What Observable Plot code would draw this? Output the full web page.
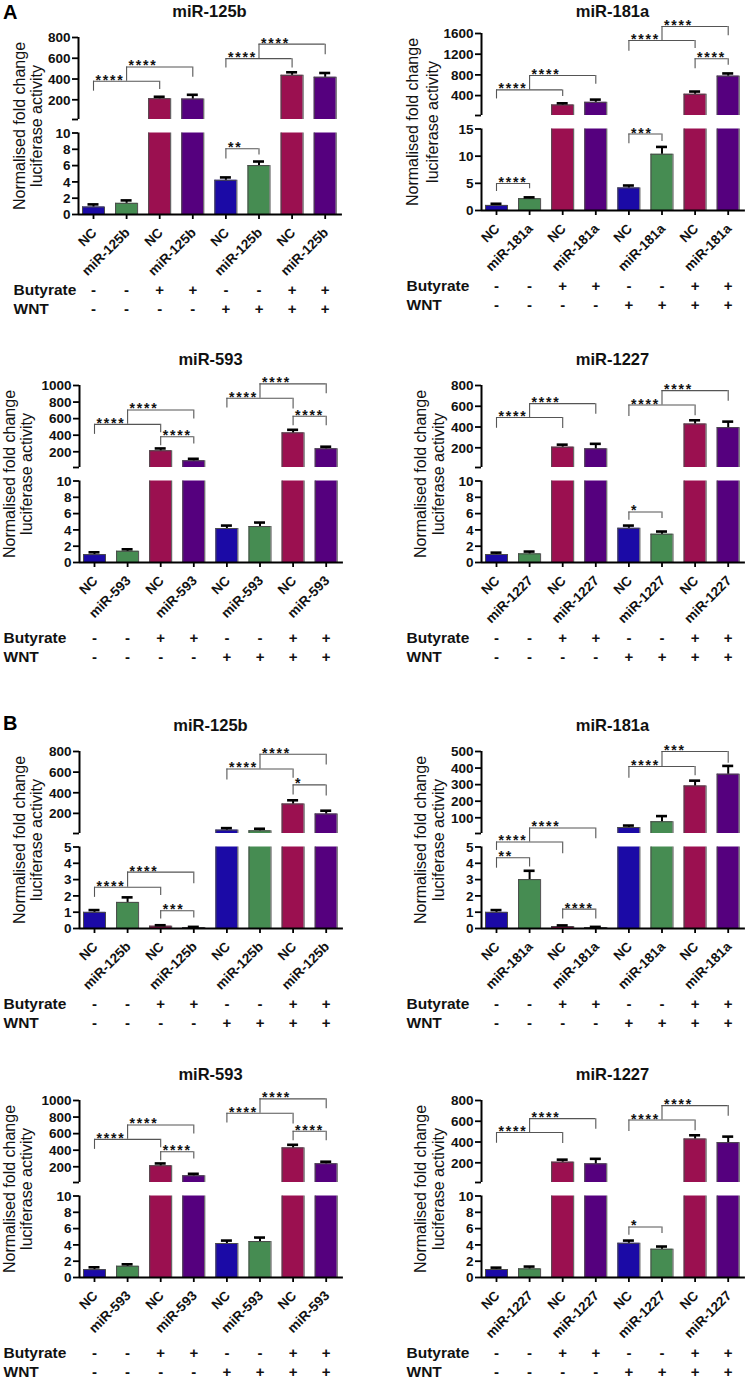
<!DOCTYPE html>
<html><head><meta charset="utf-8">
<script src="https://cdn.jsdelivr.net/npm/d3@7"></script>
<script src="https://cdn.jsdelivr.net/npm/@observablehq/plot@0.6"></script>
<style>
body{margin:0;background:#fff;}
#fig{position:relative;width:747px;height:1378px;font-family:"Liberation Sans",Arial,sans-serif;overflow:hidden;background:#fff;}
.panel{position:absolute;}
.letter{position:absolute;left:3px;font-weight:bold;font-size:20px;line-height:1;}
</style></head><body><div id="fig"></div>
<script>
// ---------------- data ----------------
const groupNames = ["miR-125b", "miR-181a", "miR-593", "miR-1227"];
const butyrateRow = ["-", "-", "+", "+", "-", "-", "+", "+"];
const wntRow = ["-", "-", "-", "-", "+", "+", "+", "+"];

// panel A
const A_125b_mean = [0.92, 1.37, 210, 207, 4.2, 6.0, 436, 417];
const A_125b_sem  = [0.32, 0.36, 19, 41, 0.35, 0.5, 29, 41];
const A_181a_mean = [0.93, 2.17, 218, 270, 4.15, 10.35, 426, 776];
const A_181a_sem  = [0.31, 0.25, 33, 52, 0.45, 1.35, 52, 52];
const A_593_mean  = [0.97, 1.38, 212, 91, 4.17, 4.41, 428, 236];
const A_593_sem   = [0.28, 0.24, 28, 24, 0.36, 0.49, 37, 25];
const A_1227_mean = [0.98, 1.06, 206, 190, 4.2, 3.47, 429, 394];
const A_1227_sem  = [0.23, 0.28, 24, 48, 0.33, 0.33, 36, 58];
// panel B (miR-593 and miR-1227 repeat the panel A values)
const B_125b_mean = [0.99, 1.6, 0.14, 0.06, 38, 31, 291, 194];
const B_125b_sem  = [0.14, 0.31, 0.06, 0.04, 19, 20, 36, 32];
const B_181a_mean = [0.99, 3.0, 0.12, 0.06, 41, 76, 292, 363];
const B_181a_sem  = [0.14, 0.54, 0.07, 0.04, 12, 34, 32, 50];

// axis ticks
const ticksLow10 = [0, 2, 4, 6, 8, 10];
const ticksLow15 = [0, 5, 10, 15];
const ticksLow5 = [0, 1, 2, 3, 4, 5];
const ticksUp800 = [200, 400, 600, 800];
const ticksUp1600 = [400, 800, 1200, 1600];
const ticksUp1000 = [200, 400, 600, 800, 1000];
const ticksUp500 = [100, 200, 300, 400, 500];

// significance brackets: a,b = bar indices; y = bracket level; l,r = leg ends; seg = axis segment
const A_125b_sig = [
  {a:0,b:2,seg:"U",y:379,l:283,r:299,s:"****"},
  {a:1,b:3,seg:"U",y:516,l:379,r:417,s:"****"},
  {a:4,b:6,seg:"U",y:596,l:506,r:506,s:"****"},
  {a:5,b:7,seg:"U",y:736,l:596,r:634,s:"****"},
  {a:4,b:5,seg:"L",y:8.06,l:6.8,r:7.3,s:"**"}
];
const A_181a_sig = [
  {a:0,b:1,seg:"L",y:4.96,l:3.5,r:4.0,s:"****"},
  {a:4,b:5,seg:"L",y:14.07,l:12.3,r:12.7,s:"***"},
  {a:0,b:2,seg:"U",y:510,l:335,r:381,s:"****"},
  {a:1,b:3,seg:"U",y:789,l:510,r:621,s:"****"},
  {a:4,b:6,seg:"U",y:1464,l:1256,r:1308,s:"****"},
  {a:5,b:7,seg:"U",y:1736,l:1464,r:1555,s:"****"},
  {a:6,b:7,seg:"U",y:1113,l:919,r:984,s:"****"}
];
const A_593_sig = [
  {a:0,b:2,seg:"U",y:531,l:410,r:430,s:"****"},
  {a:1,b:3,seg:"U",y:705,l:531,r:596,s:"****"},
  {a:2,b:3,seg:"U",y:382,l:273,r:293,s:"****"},
  {a:4,b:6,seg:"U",y:846,l:729,r:717,s:"****"},
  {a:5,b:7,seg:"U",y:1020,l:846,r:899,s:"****"},
  {a:6,b:7,seg:"U",y:628,l:515,r:515,s:"****"}
];
const A_1227_sig = [
  {a:0,b:2,seg:"U",y:492,l:388,r:385,s:"****"},
  {a:1,b:3,seg:"U",y:625,l:492,r:524,s:"****"},
  {a:4,b:5,seg:"L",y:6.2,l:5.18,r:5.39,s:"*"},
  {a:4,b:6,seg:"U",y:612,l:502,r:508,s:"****"},
  {a:5,b:7,seg:"U",y:751,l:612,r:648,s:"****"}
];
const B_125b_sig = [
  {a:0,b:2,seg:"L",y:2.53,l:1.91,r:2.02,s:"****"},
  {a:1,b:3,seg:"L",y:3.46,l:2.53,r:2.74,s:"****"},
  {a:2,b:3,seg:"L",y:1.09,l:0.58,r:0.64,s:"***"},
  {a:4,b:6,seg:"U",y:631,l:524,r:540,s:"****"},
  {a:5,b:7,seg:"U",y:774,l:631,r:670,s:"****"},
  {a:6,b:7,seg:"U",y:476,l:378,r:369,s:"*"}
];
const B_181a_sig = [
  {a:0,b:1,seg:"L",y:4.34,l:3.70,r:3.77,s:"**"},
  {a:0,b:2,seg:"L",y:5.31,l:4.79,r:4.59,s:"****"},
  {a:1,b:3,seg:"L",y:6.17,l:5.31,r:5.51,s:"****"},
  {a:2,b:3,seg:"L",y:1.19,l:0.58,r:0.58,s:"****"},
  {a:4,b:6,seg:"U",y:409,l:338,r:353,s:"****"},
  {a:5,b:7,seg:"U",y:500,l:409,r:429,s:"***"}
];

// ---------------- layout ----------------
const panels = [
  {name:"miR-125b", mean:A_125b_mean, sem:A_125b_sem, brk:10, umax:800, low:ticksLow10, up:ticksUp800, sig:A_125b_sig, col:0, axis:78, zero:214, yt:[-54,-37], rowDx:-65, ty:198},
  {name:"miR-181a", mean:A_181a_mean, sem:A_181a_sem, brk:15, umax:1600, low:ticksLow15, up:ticksUp1600, sig:A_181a_sig, col:1, axis:481, zero:210, yt:[-64,-44], rowDx:-75, ty:194},
  {name:"miR-593", mean:A_593_mean, sem:A_593_sem, brk:10, umax:1000, low:ticksLow10, up:ticksUp1000, sig:A_593_sig, col:0, axis:79, zero:562, yt:[-65,-48], rowDx:-76, ty:198},
  {name:"miR-1227", mean:A_1227_mean, sem:A_1227_sem, brk:10, umax:800, low:ticksLow10, up:ticksUp800, sig:A_1227_sig, col:1, axis:481, zero:562, yt:[-56,-38], rowDx:-75, ty:198},
  {name:"miR-125b", mean:B_125b_mean, sem:B_125b_sem, brk:5, umax:800, low:ticksLow5, up:ticksUp800, sig:B_125b_sig, col:0, axis:79, zero:928, yt:[-55,-38], rowDx:-76, ty:198},
  {name:"miR-181a", mean:B_181a_mean, sem:B_181a_sem, brk:5, umax:500, low:ticksLow5, up:ticksUp500, sig:B_181a_sig, col:1, axis:481, zero:928, yt:[-56,-38], rowDx:-75, ty:198},
  {name:"miR-593", mean:A_593_mean, sem:A_593_sem, brk:10, umax:1000, low:ticksLow10, up:ticksUp1000, sig:A_593_sig, col:0, axis:79, zero:1277, yt:[-65,-48], rowDx:-76, ty:198},
  {name:"miR-1227", mean:A_1227_mean, sem:A_1227_sem, brk:10, umax:800, low:ticksLow10, up:ticksUp800, sig:A_1227_sig, col:1, axis:481, zero:1277, yt:[-56,-38], rowDx:-75, ty:198}
];

const barColors = ["#1b0aa6", "#468c52", "#9b1050", "#55007e"];
const FONT = '"Liberation Sans", Arial, Helvetica, sans-serif';
const STEP = 33.1, FIRST = 15, HW = 11 / STEP, CAP = 5.5 / STEP;
const LOW_H = 81.5, UP_B = 95, UP_H = 82, Z = 212, H = 330;

function buildPanel(p) {
  const W = p.col ? 374 : 373;
  const left = p.col ? 373 : 0;
  const ax = p.axis - left;
  const tf = (v, seg) => {
    const s = seg || (v > p.brk ? "U" : "L");
    return s === "U" ? UP_B + (v - p.brk) / (p.umax - p.brk) * UP_H : v / p.brk * LOW_H;
  };
  const axisPos = -FIRST / STEP;
  const idx = d3.range(8);
  const names = idx.map(i => i % 2 ? p.name : "NC");
  const segs = [];
  idx.forEach(i => {
    const v = p.mean[i];
    if (v <= p.brk) segs.push({i, y1: 0, y2: tf(v, "L"), top: true});
    else {
      segs.push({i, y1: 0, y2: LOW_H, top: false});
      segs.push({i, y1: UP_B, y2: tf(v, "U"), top: true});
    }
  });
  const sides = segs.flatMap(s => [{x: s.i - HW, y1: s.y1, y2: s.y2}, {x: s.i + HW, y1: s.y1, y2: s.y2}]);
  const tops = segs.filter(s => s.top);
  const errs = idx.map(i => ({i, y1: tf(p.mean[i]), y2: tf(p.mean[i] + p.sem[i])}));
  const bracketColor = "#555";
  const txt = {fontFamily: FONT, fontWeight: "bold", lineAnchor: "bottom", fill: "#111"};

  const svg = Plot.plot({
    width: W, height: H,
    marginTop: 0, marginRight: 0, marginBottom: 0, marginLeft: 0,
    x: {type: "linear", domain: [-0.5, 7.5], range: [ax + FIRST - 0.5 * STEP, ax + FIRST + 7.5 * STEP], axis: null},
    y: {type: "linear", domain: [0, 177], range: [Z, Z - 177], axis: null},
    color: {type: "identity"},
    style: {overflow: "visible", background: "transparent", fontFamily: FONT},
    marks: [
      // bars
      Plot.rect(segs, {x1: d => d.i - HW, x2: d => d.i + HW, y1: "y1", y2: "y2", fill: d => barColors[d.i % 4]}),
      Plot.ruleX(sides, {x: "x", y1: "y1", y2: "y2", stroke: "#4a4a4a", strokeWidth: 1}),
      Plot.ruleY(tops, {y: "y2", x1: d => d.i - HW, x2: d => d.i + HW, stroke: "#4a4a4a", strokeWidth: 1}),
      // error bars
      Plot.ruleX(errs, {x: "i", y1: "y1", y2: "y2", stroke: "#000", strokeWidth: 2}),
      Plot.ruleY(errs, {y: "y2", x1: d => d.i - CAP, x2: d => d.i + CAP, stroke: "#000", strokeWidth: 2.6}),
      // y axis (broken)
      Plot.ruleX([{y1: 0, y2: LOW_H}, {y1: UP_B, y2: UP_B + UP_H}], {x: axisPos, y1: "y1", y2: "y2", stroke: "#000", strokeWidth: 2}),
      Plot.ruleY(p.low, {y: d => tf(d, "L"), x1: axisPos - 6 / STEP, x2: axisPos, stroke: "#000", strokeWidth: 1.8}),
      Plot.ruleY([p.brk, ...p.up], {y: d => tf(d, "U"), x1: axisPos - 6 / STEP, x2: axisPos, stroke: "#000", strokeWidth: 1.8}),
      Plot.text(p.low, {...txt, x: axisPos, y: d => tf(d, "L"), text: d => String(d), textAnchor: "end", dx: -8, dy: 4.8, fontSize: 13.5}),
      Plot.text(p.up, {...txt, x: axisPos, y: d => tf(d, "U"), text: d => String(d), textAnchor: "end", dx: -8, dy: 4.8, fontSize: 13.5}),
      // x axis
      Plot.ruleY([0], {x1: axisPos, x2: 7.52, stroke: "#000", strokeWidth: 2}),
      Plot.ruleX(idx, {x: d => d, y1: 0, y2: -5, stroke: "#000", strokeWidth: 1.8}),
      Plot.text(idx, {...txt, x: d => d, y: -19, dx: 4, text: d => names[d], rotate: -45, textAnchor: "end", fontSize: 13.5}),
      // treatment rows
      Plot.text(idx, {...txt, x: d => d, y: -80, text: d => butyrateRow[d], fontSize: 15}),
      Plot.text(idx, {...txt, x: d => d, y: -99, text: d => wntRow[d], fontSize: 15}),
      Plot.text(["Butyrate"], {...txt, x: axisPos, dx: p.rowDx, y: -80, text: d => d, textAnchor: "start", fontSize: 15.5}),
      Plot.text(["WNT"], {...txt, x: axisPos, dx: p.rowDx, y: -99, text: d => d, textAnchor: "start", fontSize: 15.5}),
      // significance brackets
      Plot.ruleY(p.sig, {y: d => tf(d.y, d.seg), x1: "a", x2: "b", stroke: bracketColor, strokeWidth: 1.1}),
      Plot.ruleX(p.sig, {x: "a", y1: d => tf(d.y, d.seg), y2: d => tf(d.l, d.seg), stroke: bracketColor, strokeWidth: 1.1}),
      Plot.ruleX(p.sig, {x: "b", y1: d => tf(d.y, d.seg), y2: d => tf(d.r, d.seg), stroke: bracketColor, strokeWidth: 1.1}),
      Plot.text(p.sig, {...txt, x: "a", dx: 2, y: d => tf(d.y, d.seg), dy: 3.5, text: "s", textAnchor: "start", fontSize: 14}),
      // title
      Plot.text([p.name], {...txt, x: axisPos, dx: 131, y: p.ty, text: d => d, textAnchor: "middle", fontSize: 16.5}),
      // y axis title
      Plot.text(["Normalised fold change"], {x: axisPos, dx: p.yt[0], y: 88.5, text: d => d, rotate: -90, textAnchor: "middle", lineAnchor: "bottom", fontFamily: FONT, fontSize: 16, fill: "#111"}),
      Plot.text(["luciferase activity"], {x: axisPos, dx: p.yt[1], y: 88.5, text: d => d, rotate: -90, textAnchor: "middle", lineAnchor: "bottom", fontFamily: FONT, fontSize: 16, fill: "#111"})
    ]
  });
  svg.querySelectorAll("text").forEach(t => {
    if (/^\*+$/.test(t.textContent)) t.setAttribute("letter-spacing", "1.8");
  });
  svg.classList.add("panel");
  svg.style.left = left + "px";
  svg.style.top = (p.zero - Z) + "px";
  svg.style.position = "absolute";
  return svg;
}

const fig = document.getElementById("fig");
panels.forEach(p => fig.appendChild(buildPanel(p)));
const la = document.createElement("div"); la.className = "letter"; la.textContent = "A"; la.style.top = "2px"; fig.appendChild(la);
const lb = document.createElement("div"); lb.className = "letter"; lb.textContent = "B"; lb.style.top = "713px"; fig.appendChild(lb);
</script></body></html>
